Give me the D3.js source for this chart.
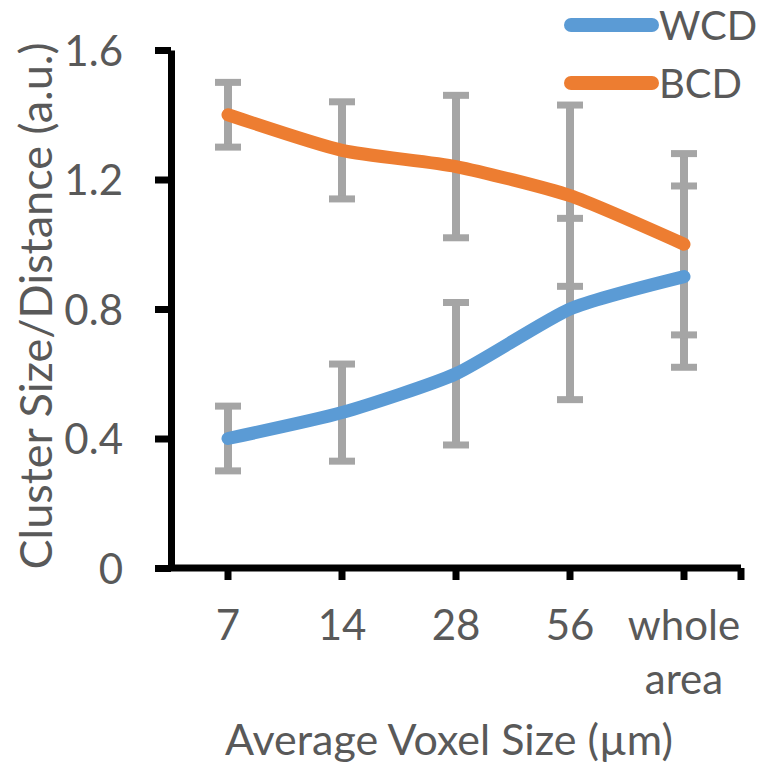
<!DOCTYPE html>
<html>
<head>
<meta charset="utf-8">
<script src="https://cdn.jsdelivr.net/npm/d3@7"></script>
<style>
  body { margin: 0; background: #fff; }
  text { font-family: Lato, "Open Sans", sans-serif; fill: #595959; }
</style>
</head>
<body>
<svg id="chart" width="759" height="774"></svg>
<script>
// data
const categories = ["7", "14", "28", "56", "whole area"];
const wcd = [0.40, 0.48, 0.60, 0.80, 0.90];
const bcd = [1.40, 1.29, 1.24, 1.15, 1.00];
const errs = [0.10, 0.15, 0.22, 0.28, 0.28];
const yTicks = [0, 0.4, 0.8, 1.2, 1.6];

const svg = d3.select("#chart");

const x = d3.scaleBand().domain(categories).range([171, 741]);
const y = d3.scaleLinear().domain([0, 1.6]).range([568, 50]);
const cx = d => x(d) + x.bandwidth() / 2;

// y axis
const yAxis = svg.append("g")
  .attr("transform", "translate(171,0)")
  .call(d3.axisLeft(y).tickValues(yTicks).tickSize(16).tickSizeOuter(0)
    .tickFormat(d => d === 0 ? "0" : d3.format(".1f")(d)).tickPadding(32));
yAxis.select(".domain").attr("stroke", "#000").attr("stroke-width", 7);
yAxis.selectAll(".tick line").attr("stroke", "#000").attr("stroke-width", 7);
yAxis.selectAll(".tick text").attr("font-size", 42).attr("dy", "0.36em");

// x axis
const xAxis = svg.append("g")
  .attr("transform", "translate(0,568)");
xAxis.append("line")
  .attr("x1", 168).attr("x2", 741)
  .attr("stroke", "#000").attr("stroke-width", 7);
xAxis.selectAll(".xt")
  .data(categories.map(cx).concat([741]))
  .enter()
  .append("line")
  .attr("class", "xt")
  .attr("x1", d => d).attr("x2", d => d)
  .attr("y1", 0).attr("y2", 12)
  .attr("stroke", "#000").attr("stroke-width", 7);
xAxis.selectAll(".xl")
  .data(categories)
  .enter()
  .append("text")
  .attr("class", "xl")
  .attr("text-anchor", "middle")
  .attr("font-size", 42)
  .attr("x", d => cx(d))
  .selectAll("tspan")
  .data(d => d.split(" "))
  .enter()
  .append("tspan")
  .attr("x", function() { return this.parentNode.getAttribute("x"); })
  .attr("y", (d, i) => 72 + i * 54)
  .text(d => d);

// error bars
const series = [
  { name: "WCD", values: wcd, color: "#5B9BD5" },
  { name: "BCD", values: bcd, color: "#ED7D31" },
];

series.forEach(s => {
  const g = svg.append("g").attr("class", "err");
  const pts = categories.map((c, i) => ({ c, v: s.values[i], e: errs[i] }));
  g.selectAll(".stem").data(pts).enter().append("line")
    .attr("x1", d => cx(d.c)).attr("x2", d => cx(d.c))
    .attr("y1", d => y(d.v + d.e)).attr("y2", d => y(d.v - d.e))
    .attr("stroke", "#A5A5A5").attr("stroke-width", 8);
  [1, -1].forEach(sign => {
    g.selectAll(".cap" + sign).data(pts).enter().append("line")
      .attr("x1", d => cx(d.c) - 13).attr("x2", d => cx(d.c) + 13)
      .attr("y1", d => y(d.v + sign * d.e)).attr("y2", d => y(d.v + sign * d.e))
      .attr("stroke", "#A5A5A5").attr("stroke-width", 7);
  });
});

// lines (excel-ish smoothing)
const line = d3.line()
  .x((d, i) => cx(categories[i]))
  .y(d => y(d))
  .curve(d3.curveCardinal.tension(0.4));

series.forEach(s => {
  svg.append("path")
    .datum(s.values)
    .attr("d", line)
    .attr("fill", "none")
    .attr("stroke", s.color)
    .attr("stroke-width", 13)
    .attr("stroke-linecap", "round")
    .attr("stroke-linejoin", "round");
});

// legend
const legend = svg.append("g");
series.forEach((s, i) => {
  const ly = 25 + i * 58;
  legend.append("line")
    .attr("x1", 571).attr("x2", 652)
    .attr("y1", ly).attr("y2", ly)
    .attr("stroke", s.color).attr("stroke-width", 14)
    .attr("stroke-linecap", "round");
  legend.append("text")
    .attr("x", 659).attr("y", ly + 15)
    .attr("font-size", 40)
    .text(s.name);
});

// axis titles
svg.append("text")
  .attr("text-anchor", "middle")
  .attr("font-size", 45)
  .attr("transform", "translate(52,306) rotate(-90)")
  .text("Cluster Size/Distance (a.u.)");

svg.append("text")
  .attr("text-anchor", "middle")
  .attr("font-size", 43)
  .attr("x", 449).attr("y", 755)
  .text("Average Voxel Size (µm)");
</script>
</body>
</html>
